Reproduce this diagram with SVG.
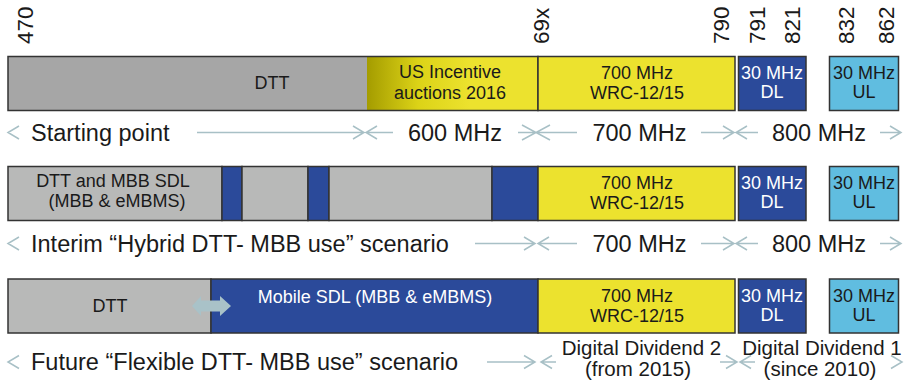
<svg xmlns="http://www.w3.org/2000/svg" width="910" height="384" viewBox="0 0 910 384">
<defs>
<linearGradient id="olive" x1="0" y1="0" x2="1" y2="0">
<stop offset="0" stop-color="#a49c00"/>
<stop offset="0.3" stop-color="#dcd317"/>
<stop offset="0.6" stop-color="#ece22e"/>
<stop offset="1" stop-color="#ece22e"/>
</linearGradient>
</defs>
<style>
text{font-family:"Liberation Sans",Arial,sans-serif;fill:#1a1a1a}
.num{font-size:22.5px}
.bl{font-size:18px;text-anchor:middle}
.w{fill:#ffffff}
.lbl{font-size:23.5px}
.dd{font-size:20.5px;text-anchor:middle}
.mid{text-anchor:middle}
.bar{stroke:#333333;stroke-width:1.5}
.g1{fill:#a6a6a6}
.g2{fill:#b8b9b8}
.yel{fill:#ece22e}
.blue{fill:#2b4a9a}
.lblue{fill:#60bde0}
.arr{fill:none;stroke:#a8c0c6;stroke-width:1.5}
</style>
<rect x="0" y="0" width="910" height="384" fill="#ffffff"/>

<g id="scale">
<text class="num" transform="translate(33,44) rotate(-90)">470</text>
<text class="num" transform="translate(549,44) rotate(-90)">69x</text>
<text class="num" transform="translate(729,44) rotate(-90)">790</text>
<text class="num" transform="translate(765,44) rotate(-90)">791</text>
<text class="num" transform="translate(800,44) rotate(-90)">821</text>
<text class="num" transform="translate(854,44) rotate(-90)">832</text>
<text class="num" transform="translate(894,44) rotate(-90)">862</text>
</g>

<!-- Row 1 -->
<g id="r1-dtt">
<rect class="g1" x="8" y="56.5" width="359" height="54"/>
<text class="bl" x="272" y="89">DTT</text>
</g>
<g id="r1-us">
<rect fill="url(#olive)" x="367" y="56.5" width="171" height="54"/>
<text class="bl" x="450" y="78">US Incentive</text>
<text class="bl" x="450" y="98.5">auctions 2016</text>
</g>
<rect fill="none" class="bar" x="8" y="56.5" width="530" height="54"/>
<g id="r1-700">
<rect class="bar yel" x="538" y="56.5" width="197" height="54"/>
<text class="bl" x="637" y="78.5">700 MHz</text>
<text class="bl" x="637" y="98.5">WRC-12/15</text>
</g>
<g id="r1-dl">
<rect class="bar blue" x="738.5" y="56.5" width="67.5" height="54"/>
<text class="bl w" x="772" y="79">30 MHz</text>
<text class="bl w" x="772" y="97.5">DL</text>
</g>
<g id="r1-ul">
<rect class="bar lblue" x="829.5" y="56.5" width="69" height="54"/>
<text class="bl" x="864" y="79">30 MHz</text>
<text class="bl" x="864" y="97.5">UL</text>
</g>

<!-- Row 2 -->
<g id="r2-dtt">
<rect class="bar g2" x="8" y="166.5" width="214" height="54"/>
<text class="bl" x="113" y="186.5">DTT and MBB SDL</text>
<text class="bl" x="117" y="206.5">(MBB &amp; eMBMS)</text>
</g>
<g id="r2-b1"><rect class="bar blue" x="222" y="166.5" width="20" height="54"/></g>
<g id="r2-g2"><rect class="bar g2" x="242" y="166.5" width="66" height="54"/></g>
<g id="r2-b2"><rect class="bar blue" x="308" y="166.5" width="21" height="54"/></g>
<g id="r2-g3"><rect class="bar g2" x="329" y="166.5" width="163" height="54"/></g>
<g id="r2-b3"><rect class="bar blue" x="492" y="166.5" width="46" height="54"/></g>
<g id="r2-700">
<rect class="bar yel" x="538" y="166.5" width="197" height="54"/>
<text class="bl" x="637" y="189">700 MHz</text>
<text class="bl" x="637" y="209">WRC-12/15</text>
</g>
<g id="r2-dl">
<rect class="bar blue" x="738.5" y="166.5" width="67.5" height="54"/>
<text class="bl w" x="772" y="189">30 MHz</text>
<text class="bl w" x="772" y="208">DL</text>
</g>
<g id="r2-ul">
<rect class="bar lblue" x="829.5" y="166.5" width="69" height="54"/>
<text class="bl" x="864" y="189">30 MHz</text>
<text class="bl" x="864" y="208">UL</text>
</g>

<!-- Row 3 -->
<g id="r3-dtt">
<rect class="bar g2" x="8" y="279" width="203" height="54"/>
<text class="bl" x="110" y="312">DTT</text>
</g>
<g id="r3-sdl">
<rect class="bar blue" x="211" y="279" width="327" height="54"/>
<text class="bl w" x="375" y="303">Mobile SDL (MBB &amp; eMBMS)</text>
</g>
<g id="r3-700">
<rect class="bar yel" x="538" y="279" width="197" height="54"/>
<text class="bl" x="637" y="302">700 MHz</text>
<text class="bl" x="637" y="322">WRC-12/15</text>
</g>
<g id="r3-dl">
<rect class="bar blue" x="738.5" y="279" width="67.5" height="54"/>
<text class="bl w" x="772" y="302">30 MHz</text>
<text class="bl w" x="772" y="321">DL</text>
</g>
<g id="r3-ul">
<rect class="bar lblue" x="829.5" y="279" width="69" height="54"/>
<text class="bl" x="864" y="302">30 MHz</text>
<text class="bl" x="864" y="321">UL</text>
</g>

<g id="connectors">
<path fill="#a9c2c8" d="M192,306 L201,296 L201,300.5 L220,300.5 L220,296 L231,306 L220,316 L220,311.5 L201,311.5 L201,316 Z"/>
<!-- row 1 -->
<path class="arr" d="M19,126 L8,132.5 L19,139 M197,132.5 H364 M353,126 L364,132.5 L353,139 M377,126 L366,132.5 L377,139 M366,132.5 H393 M518,132.5 H577 M522,125 L536,132.5 L522,140 M550,125 L536,132.5 L550,140 M701,132.5 H734 M723,126 L734,132.5 L723,139 M747,126 L736,132.5 L747,139 M736,132.5 H758 M880,132.5 H901 M890,126 L901,132.5 L890,139"/>
<!-- row 2 -->
<path class="arr" d="M19,237 L8,243.5 L19,250 M475,243.5 H535 M524,237 L535,243.5 L524,250 M549,237 L538,243.5 L549,250 M538,243.5 H577 M701,243.5 H734 M723,237 L734,243.5 L723,250 M747,237 L736,243.5 L747,250 M736,243.5 H758 M880,243.5 H901 M890,237 L901,243.5 L890,250"/>
<!-- row 3 -->
<path class="arr" d="M19,355.5 L8,362 L19,368.5 M487,362 H535 M524,355.5 L535,362 L524,368.5 M552,355.5 L541,362 L552,368.5 M541,362 H556 M720,362 H737 M726,355.5 L737,362 L726,368.5 M751,355.5 L740,362 L751,368.5 M740,362 H755 M891,355.5 L902,362 L891,368.5"/>
</g>

<g id="labels">
<text class="lbl" x="31" y="140.5">Starting point</text>
<text class="lbl mid" x="455" y="140.5">600 MHz</text>
<text class="lbl mid" x="639.5" y="140.5">700 MHz</text>
<text class="lbl mid" x="819" y="140.5">800 MHz</text>
<text class="lbl" x="31" y="251.5">Interim “Hybrid DTT- MBB use” scenario</text>
<text class="lbl mid" x="639.5" y="251.5">700 MHz</text>
<text class="lbl mid" x="819" y="251.5">800 MHz</text>
<text class="lbl" x="31" y="370">Future “Flexible DTT- MBB use” scenario</text>
<text class="dd" x="641.5" y="355">Digital Dividend 2</text>
<text class="dd" x="638" y="376">(from 2015)</text>
<text class="dd" x="822" y="355">Digital Dividend 1</text>
<text class="dd" x="820" y="376">(since 2010)</text>
</g>
</svg>
